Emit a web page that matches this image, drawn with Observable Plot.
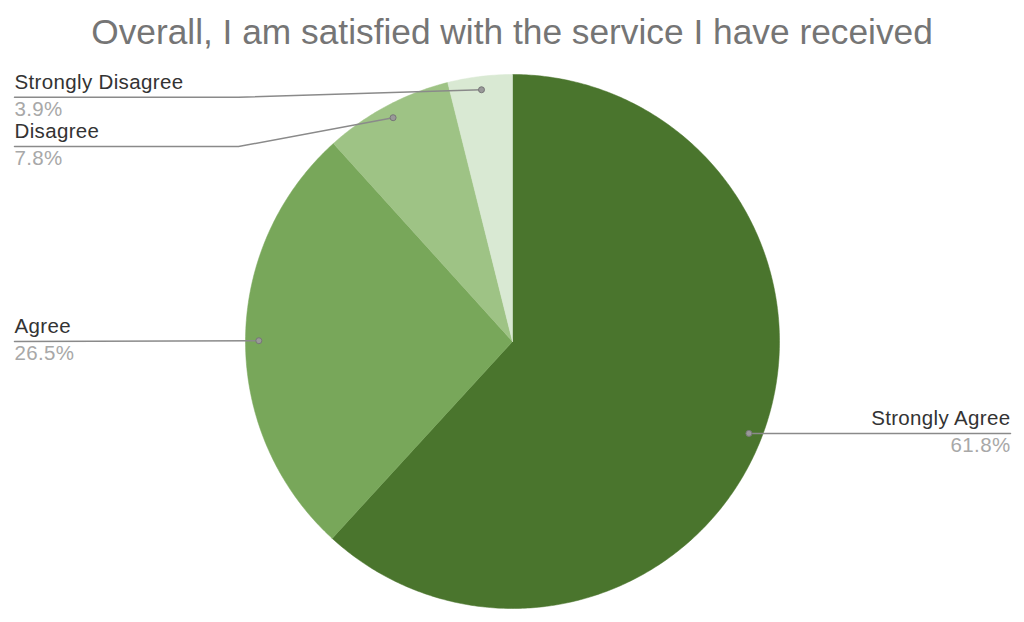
<!DOCTYPE html>
<html>
<head>
<meta charset="utf-8">
<script src="https://cdn.jsdelivr.net/npm/d3@7"></script>
<script src="https://cdn.jsdelivr.net/npm/@observablehq/plot@0.6"></script>
<style>
  html, body { margin: 0; padding: 0; background: #fff; }
  #chart { width: 1024px; height: 622px; position: relative; }
  #title { position: absolute; left: 0; top: 12px; width: 1024px; text-align: center; line-height: 40px;
           font-family: "Liberation Sans", Arial, sans-serif; font-size: 35.3px; color: #757575; }
  svg { position: absolute; left: 0; top: 0; }
  svg text { letter-spacing: 0.35px; }
</style>
</head>
<body>
<div id="chart"><div id="title">Overall, I am satisfied with the service I have received</div></div>
<script>
const categories = ["Strongly Agree", "Agree", "Disagree", "Strongly Disagree"];
const values = [61.8, 26.5, 7.8, 3.9];
const colors = ["#4a752d", "#78a75a", "#9ec385", "#d9e9d3"];
const percentLabels = ["61.8%", "26.5%", "7.8%", "3.9%"];
// label side: 1 = right, -1 = left; label row y in radius units (y down)
const labelSide = [1, -1, -1, -1];
const labelRowY = [0.345, 0.0, -0.73, -0.915];

const W = 1024, H = 622, R = 267, CX = 512, CY = 341;
const total = d3.sum(values);

// wedge polygons (unit circle, angle clockwise from 12 o'clock, y down)
const wedges = [];
const mids = [];
let acc = 0;
values.forEach((v, i) => {
  const a0 = acc / total * 2 * Math.PI;
  acc += v;
  const a1 = acc / total * 2 * Math.PI;
  mids.push((a0 + a1) / 2);
  wedges.push({cat: categories[i], x: 0, y: 0});
  const n = Math.max(4, Math.ceil((a1 - a0) / 0.01));
  for (let k = 0; k <= n; k++) {
    const a = a0 + (a1 - a0) * k / n;
    wedges.push({cat: categories[i], x: Math.sin(a), y: -Math.cos(a)});
  }
  wedges.push({cat: categories[i], x: 0, y: 0});
});

// leader lines
const leaders = [];
const dots = [];
const labelsLeft = [];
const labelsRight = [];
const kinkX = (238 - CX) / R;
values.forEach((v, i) => {
  const a = mids[i];
  const dx = 0.95 * Math.sin(a), dy = -0.95 * Math.cos(a);
  dots.push({x: dx, y: dy});
  const ly = labelRowY[i];
  const side = labelSide[i];
  const endX = side > 0 ? (1010 - CX) / R : (14 - CX) / R;
  leaders.push({id: i, x: dx, y: dy});
  if (side < 0 && Math.abs(ly - dy) > 0.01) leaders.push({id: i, x: kinkX, y: ly});
  leaders.push({id: i, x: endX, y: ly});
  (side > 0 ? labelsRight : labelsLeft).push({x: endX, y: ly, name: categories[i], pct: percentLabels[i]});
});

const nameStyle = {x: "x", y: "y", text: "name", dy: -15.2, fontSize: 20.5, fill: "#333"};
const pctStyle = {x: "x", y: "y", text: "pct", dy: 11.8, fontSize: 20.5, fill: "#a8a8a8"};

const plot = Plot.plot({
  width: W, height: H,
  margin: 0,
  x: {domain: [-CX / R, (W - CX) / R], range: [0, W], axis: null},
  y: {domain: [-CY / R, (H - CY) / R], range: [0, H], axis: null},
  color: {domain: categories, range: colors},
  style: {fontFamily: "'Liberation Sans', Arial, sans-serif", background: "transparent"},
  marks: [
    Plot.line(wedges, {x: "x", y: "y", z: "cat", fill: "cat", stroke: "cat", strokeWidth: 0.5, curve: "linear"}),
    Plot.line(leaders, {x: "x", y: "y", z: "id", stroke: "#8a8a8a", strokeWidth: 1.5}),
    Plot.dot(dots, {x: "x", y: "y", r: 3, fill: "#999", stroke: "#777", strokeWidth: 1}),
    Plot.text(labelsLeft, {...nameStyle, textAnchor: "start"}),
    Plot.text(labelsLeft, {...pctStyle, textAnchor: "start"}),
    Plot.text(labelsRight, {...nameStyle, textAnchor: "end"}),
    Plot.text(labelsRight, {...pctStyle, textAnchor: "end"})
  ]
});
document.getElementById("chart").appendChild(plot);
</script>
</body>
</html>
